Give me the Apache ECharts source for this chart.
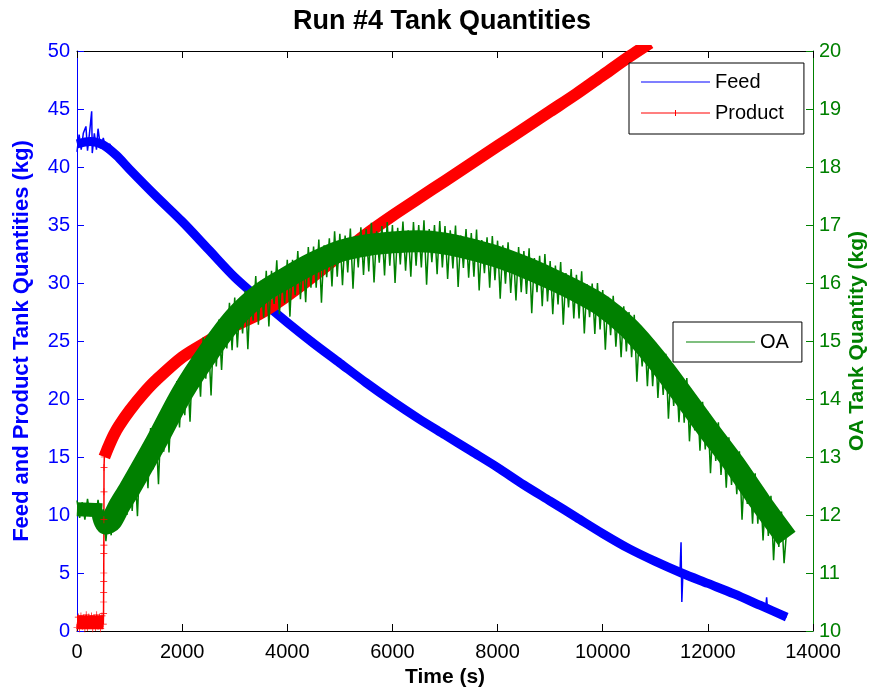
<!DOCTYPE html>
<html><head><meta charset="utf-8">
<script src="https://cdn.jsdelivr.net/npm/echarts@6/dist/echarts.min.js"></script>
<style>html,body{margin:0;padding:0;background:#fff}#chart{width:871px;height:692px}</style>
</head><body><div id="chart"></div>
<script>
// ---- data (time in s) ----
const xTickValues = [0, 2000, 4000, 6000, 8000, 10000, 12000, 14000];

// Feed tank (kg, left axis): centre of the band
const feedCore = [[0,42.0],[250,42.2],[500,41.9],[750,41.0],[1000,39.8],[1500,37.5],[2000,35.3],[2500,32.9],[3000,30.5],[3500,28.5],[4000,26.6],[4500,24.8],[5000,23.1],[5500,21.4],[6000,19.8],[6500,18.3],[7000,16.9],[7500,15.5],[8000,14.1],[8500,12.6],[9000,11.2],[9500,9.8],[10000,8.4],[10500,7.1],[11000,6.0],[11500,5.0],[12000,4.1],[12500,3.2],[13000,2.2],[13500,1.2]];
// Feed tank raw trace incl. noise/spikes
const feedTrace = [[0,41.3],[40,42.8],[80,41.5],[120,42.9],[170,43.5],[200,41.4],[240,43.0],[279,44.8],[290,41.2],[330,42.9],[370,41.5],[400,43.3],[450,41.6],[500,42.5],[560,41.3],[620,42.0],[750,41.0],[1000,39.8],[1500,37.5],[2000,35.3],[2500,32.9],[3000,30.5],[3500,28.5],[4000,26.6],[4500,24.8],[5000,23.1],[5500,21.4],[6000,19.8],[6500,18.3],[7000,16.9],[7500,15.5],[8000,14.1],[8500,12.6],[9000,11.2],[9500,9.8],[10000,8.4],[10500,7.1],[11000,6.0],[11470,5.05],[11490,7.65],[11505,2.5],[11525,4.95],[12000,4.1],[12500,3.2],[13000,2.2],[13100,2.0],[13118,2.9],[13135,1.9],[13500,1.2]];

// Product tank (kg, left axis)
const productTrace = [[0,0.3],[25,1.2],[50,0.2],[75,1.3],[100,0.4],[125,1.1],[150,0.2],[175,1.4],[200,0.3],[225,1.2],[250,0.5],[275,1.3],[300,0.2],[325,1.1],[350,0.3],[375,1.4],[400,0.4],[425,1.2],[450,0.2],[475,1.3],[500,0.6],[505,1.5],[506,2.5],[507,3.3],[508,4.25],[509,5.0],[510,6.7],[511,7.4],[512,9.6],[513,12.0],[514,14.1],[520,15.0]];
const productCore = [[520,15.0],[600,15.9],[700,16.9],[800,17.7],[1000,19.0],[1250,20.4],[1500,21.6],[2000,23.6],[2500,25.0],[3000,26.3],[3500,27.4],[4000,28.9],[4500,30.6],[5000,32.4],[5500,34.2],[6000,35.8],[6500,37.3],[7000,38.8],[7500,40.3],[8000,41.8],[8500,43.3],[9000,44.8],[9500,46.3],[10000,47.9],[10500,49.5],[10900,50.7]];
const productPreCore = [[0,0.75],[500,0.75]];

// OA tank (kg, right axis)
const oaPreCore = [[0,12.1],[480,12.08]];
const oaCore = [[480,12.05],[550,11.85],[650,11.9],[800,12.15],[1000,12.45],[1500,13.25],[2000,14.1],[2500,14.8],[3000,15.4],[3500,15.82],[4000,16.1],[4500,16.35],[5000,16.55],[5500,16.65],[6000,16.7],[6500,16.72],[7000,16.68],[7500,16.58],[8000,16.45],[8500,16.28],[9000,16.08],[9500,15.86],[10000,15.6],[10500,15.22],[11000,14.7],[11500,14.1],[12000,13.48],[12500,12.88],[13000,12.22],[13500,11.6]];
const oaTime = [0,50,100,150,200,250,300,350,400,450,
 500,550,600,650,700,750,800,850,900,950,
 1000,1050,1100,1150,1200,1250,1300,1350,1400,1450,
 1500,1550,1600,1650,1700,1750,1800,1850,1900,1950,
 2000,2050,2100,2150,2200,2250,2300,2350,2400,2450,
 2500,2550,2600,2650,2700,2750,2800,2850,2900,2950,
 3000,3050,3100,3150,3200,3250,3300,3350,3400,3450,
 3500,3550,3600,3650,3700,3750,3800,3850,3900,3950,
 4000,4050,4100,4150,4200,4250,4300,4350,4400,4450,
 4500,4550,4600,4650,4700,4750,4800,4850,4900,4950,
 5000,5050,5100,5150,5200,5250,5300,5350,5400,5450,
 5500,5550,5600,5650,5700,5750,5800,5850,5900,5950,
 6000,6050,6100,6150,6200,6250,6300,6350,6400,6450,
 6500,6550,6600,6650,6700,6750,6800,6850,6900,6950,
 7000,7050,7100,7150,7200,7250,7300,7350,7400,7450,
 7500,7550,7600,7650,7700,7750,7800,7850,7900,7950,
 8000,8050,8100,8150,8200,8250,8300,8350,8400,8450,
 8500,8550,8600,8650,8700,8750,8800,8850,8900,8950,
 9000,9050,9100,9150,9200,9250,9300,9350,9400,9450,
 9500,9550,9600,9650,9700,9750,9800,9850,9900,9950,
 10000,10050,10100,10150,10200,10250,10300,10350,10400,10450,
 10500,10550,10600,10650,10700,10750,10800,10850,10900,10950,
 11000,11050,11100,11150,11200,11250,11300,11350,11400,11450,
 11500,11550,11600,11650,11700,11750,11800,11850,11900,11950,
 12000,12050,12100,12150,12200,12250,12300,12350,12400,12450,
 12500,12550,12600,12650,12700,12750,12800,12850,12900,12950,
 13000,13050,13100,13150,13200,13250,13300,13350,13400,13450,
 13500];
const oaNoise = [12.25,11.95,12.22,11.92,12.28,11.98,12.2,11.9,12.26,11.96,
 12.1,11.55,12.05,11.65,12.25,11.75,12.4,11.95,12.55,12.0,
 12.75,12.07,12.82,11.98,13.12,12.55,13.11,12.46,13.5,12.79,
 13.5,12.53,13.7,13.09,13.93,13.08,13.97,13.5,14.31,13.51,
 14.4,13.72,14.46,13.61,14.73,14.15,14.7,14.04,15.06,14.35,
 15.05,14.06,15.2,14.56,15.37,14.5,15.36,14.87,15.66,14.84,
 15.75,14.89,15.68,15.13,15.87,14.86,15.9,15.35,16.12,15.28,
 16.04,15.4,16.21,15.25,16.21,15.64,16.39,15.46,16.24,15.65,
 16.4,15.42,16.4,15.79,16.55,15.72,16.43,15.67,16.62,15.92,
 16.63,15.92,16.75,15.66,16.65,16.1,16.77,15.94,16.89,16.11,
 16.85,15.96,16.82,16.18,16.94,15.9,16.81,16.27,16.96,16.14,
 16.93,16.2,17.04,16.01,16.89,16.35,16.98,16.13,17.05,16.3,
 17.0,16.0,16.95,16.32,17.06,16.21,16.91,16.11,17.05,16.3,
 17.0,16.27,17.08,15.97,16.93,16.36,17.0,16.15,17.07,16.27,
 16.98,16.07,16.91,16.25,16.99,15.93,16.82,16.26,16.93,16.09,
 16.86,16.11,16.92,15.87,16.74,16.17,16.79,15.92,16.81,16.05,
 16.73,15.73,16.65,15.99,16.7,15.83,16.54,15.7,16.62,15.84,
 16.55,15.81,16.6,15.48,16.43,15.84,16.47,15.6,16.5,15.68,
 16.38,15.46,16.3,15.63,16.36,15.28,16.17,15.58,16.24,15.39,
 16.14,15.39,16.2,15.13,15.98,15.41,15.99,15.12,16.0,15.2,
 15.88,14.85,15.76,15.1,15.78,14.9,15.55,14.72,15.6,14.82,
 15.5,14.72,15.45,14.3,15.18,14.56,15.12,14.22,15.07,14.22,
 14.98,14.02,14.8,14.07,14.78,13.66,14.5,13.88,14.5,13.6,
 14.38,13.59,14.36,13.27,14.06,13.46,14.02,13.11,13.95,13.13,
 13.78,12.72,13.62,12.93,13.6,12.69,13.34,12.47,13.34,12.52,
 13.16,12.36,13.1,11.92,12.83,12.19,12.77,11.85,12.72,11.85,
 12.52,11.56,12.35,11.64,12.33,11.22,12.06,11.45,12.06,11.17,
 11.75];

// ---- chart ----
const FONT = "'Liberation Sans', Arial, Helvetica, sans-serif";
const BLUE = '#0000ff', RED = '#ff0000', GREEN = '#008000';
const lineIcon = 'path://M0,0h0.01v0.01h-0.01z M0,9.5h69v1h-69z M68.99,19.99h0.01v0.01h-0.01z';
const plusIcon = 'path://M0,0h0.01v0.01h-0.01z M0,9.5h69v1h-69z M34,7h1v6h-1z M68.99,19.99h0.01v0.01h-0.01z';
const plusSymbol = 'path://M0,4.5h10v1h-10z M4.5,0h1v10h-1z';

const chart = echarts.init(document.getElementById('chart'), null, {renderer: 'canvas'});

function coreLine(name, data, yIdx, color, width, smooth) {
  return {type: 'line', name: name, xAxisIndex: 0, yAxisIndex: yIdx, data: data,
    symbol: 'none', showSymbol: false, silent: true, animation: false, clip: true, smooth: smooth || false,
    lineStyle: {color: color, width: width, cap: 'butt', join: 'round'},
    itemStyle: {color: color}, emphasis: {disabled: true}};
}

const option = {
  animation: false,
  backgroundColor: '#fff',
  grid: {left: 77, right: 58, top: 51, bottom: 61, containLabel: false, outerBoundsMode: 'none'},
  graphic: [{type: 'text', x: 442, y: 22, silent: true,
    style: {text: 'Run #4 Tank Quantities', fill: '#000', font: 'bold 27px ' + FONT, align: 'center', verticalAlign: 'middle'}}],
  legend: [
    {data: [{name: 'Feed', icon: lineIcon}, {name: 'Product', icon: plusIcon}],
     orient: 'vertical', left: 629, top: 63, itemWidth: 69, itemHeight: 20, itemGap: 11,
     padding: [9, 20, 11, 12], borderColor: '#000', borderWidth: 1, borderRadius: 0, backgroundColor: '#fff',
     selectedMode: false, itemStyle: {borderWidth: 0},
     textStyle: {fontSize: 20, color: '#000', fontFamily: FONT}},
    {data: [{name: 'OA', icon: lineIcon}],
     orient: 'vertical', left: 673, top: 322, itemWidth: 69, itemHeight: 20,
     padding: [10, 13, 10, 13], borderColor: '#000', borderWidth: 1, borderRadius: 0, backgroundColor: '#fff',
     selectedMode: false, itemStyle: {borderWidth: 0},
     textStyle: {fontSize: 20, color: '#000', fontFamily: FONT}}
  ],
  xAxis: [
    {type: 'value', position: 'bottom', min: xTickValues[0], max: xTickValues[xTickValues.length - 1], interval: 2000,
     axisLine: {show: true, onZero: false, lineStyle: {color: '#000', width: 1}},
     axisTick: {show: true, inside: true, length: 7, lineStyle: {color: '#000'}},
     axisLabel: {color: '#000', fontSize: 20, fontFamily: FONT, margin: 11, formatter: v => String(v)},
     splitLine: {show: false},
     name: 'Time (s)', nameLocation: 'middle', nameGap: 36, nameMoveOverlap: false,
     nameTextStyle: {color: '#000', fontSize: 21, fontWeight: 'bold', fontFamily: FONT}},
    {type: 'value', position: 'top', min: 0, max: 14000, interval: 2000,
     axisLine: {show: true, onZero: false, lineStyle: {color: '#000', width: 1}},
     axisTick: {show: true, inside: true, length: 7, lineStyle: {color: '#000'}},
     axisLabel: {show: false}, splitLine: {show: false}}
  ],
  yAxis: [
    {type: 'value', position: 'left', min: 0, max: 50, interval: 5,
     axisLine: {show: true, onZero: false, lineStyle: {color: BLUE, width: 1}},
     axisTick: {show: true, inside: true, length: 7, lineStyle: {color: BLUE}},
     axisLabel: {color: BLUE, fontSize: 20, fontFamily: FONT, margin: 7},
     splitLine: {show: false},
     name: 'Feed and Product Tank Quantities (kg)', nameLocation: 'middle', nameGap: 44, nameRotate: 90, nameMoveOverlap: false,
     nameTextStyle: {color: BLUE, fontSize: 22, fontWeight: 'bold', fontFamily: FONT}},
    {type: 'value', position: 'right', min: 10, max: 20, interval: 1,
     axisLine: {show: true, onZero: false, lineStyle: {color: GREEN, width: 1}},
     axisTick: {show: true, inside: true, length: 7, lineStyle: {color: GREEN}},
     axisLabel: {color: GREEN, fontSize: 20, fontFamily: FONT, margin: 6},
     splitLine: {show: false},
     name: 'OA Tank Quantity (kg)', nameLocation: 'middle', nameGap: 34, nameRotate: 90, nameMoveOverlap: false,
     nameTextStyle: {color: GREEN, fontSize: 21, fontWeight: 'bold', fontFamily: FONT}}
  ],
  series: [
    coreLine('feedCore', feedCore, 0, BLUE, 9, 0.3),
    {type: 'line', name: 'Feed', xAxisIndex: 0, yAxisIndex: 0, data: feedTrace, symbol: 'none', showSymbol: false,
     silent: true, animation: false, lineStyle: {color: BLUE, width: 1.5}, itemStyle: {color: BLUE}, emphasis: {disabled: true}},
    coreLine('productPreCore', productPreCore, 0, RED, 14),
    coreLine('productCore', productCore, 0, RED, 12, 0.3),
    {type: 'line', name: 'Product', xAxisIndex: 0, yAxisIndex: 0, data: productTrace,
     symbol: plusSymbol, symbolSize: 7, showSymbol: true, showAllSymbol: true,
     silent: true, animation: false, lineStyle: {color: RED, width: 1.5}, itemStyle: {color: RED}, emphasis: {disabled: true}},
    coreLine('oaPreCore', oaPreCore, 1, GREEN, 14),
    coreLine('oaCore', oaCore, 1, GREEN, 22, 0.3),
    {type: 'line', name: 'OA', xAxisIndex: 0, yAxisIndex: 1, data: oaTime.map((t, i) => [t, oaNoise[i]]),
     symbol: 'none', showSymbol: false, silent: true, animation: false,
     lineStyle: {color: GREEN, width: 1.5}, itemStyle: {color: GREEN}, emphasis: {disabled: true}}
  ]
};
chart.setOption(option);
</script>
</body></html>
